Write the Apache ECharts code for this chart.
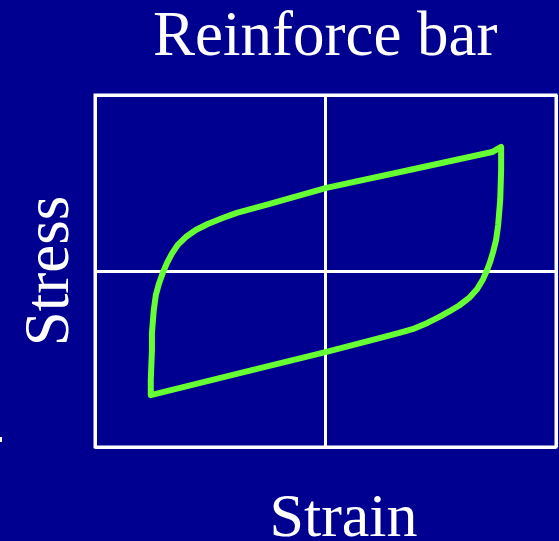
<!DOCTYPE html>
<html>
<head>
<meta charset="utf-8">
<script src="https://cdn.jsdelivr.net/npm/echarts@6/dist/echarts.min.js"></script>
<style>
  html, body { margin: 0; padding: 0; background: #000090; }
  #main { width: 559px; height: 541px; }
</style>
</head>
<body>
<div id="main"></div>
<script>
// hysteresis loop (axis units -100..100)
// left branch up, upper branch, right branch down, lower branch back
var strainVals = [-75.8, -75.8, -75.3, -75.3, -74.5, -73.6, -72.3, -70.6, -68.8, -66.7, -64.1, -60.6, -56.3, -51.1, -44.6, -38.5, -24.2, 0.4, 36.4, 72.3, 76.2,
                  76.2, 75.8, 74.9, 74.0, 72.7, 71.4, 70.1, 68.4, 65.8, 62.3, 58.0, 53.7, 49.4, 44.2, 38.5, 32.0, 23.4, 0.4, -37.2, -75.8];
var stressVals = [-70.5, -61.9, -44.9, -35.2, -22.2, -13.6, -7.4, -1.1, 4.5, 9.7, 14.8, 19.3, 23.3, 26.7, 30.1, 33.0, 38.1, 47.2, 57.4, 67.6, 70.5,
                  57.4, 40.3, 26.1, 17.6, 10.8, 5.1, 0.6, -4.5, -10.2, -15.3, -19.6, -23.0, -26.1, -29.5, -32.7, -35.2, -38.1, -46.0, -58.0, -70.5];

var loop = strainVals.map(function (x, i) { return [x, stressVals[i]]; });

var myChart = echarts.init(document.getElementById('main'));

var option = {
    backgroundColor: '#000090',
    title: {
        text: 'Reinforce bar',
        left: 148,
        top: 2,
        textStyle: {
            color: '#ffffff',
            fontFamily: 'Liberation Serif',
            fontWeight: 'normal',
            fontSize: 63
        }
    },
    grid: {
        left: 95,
        right: 3,
        top: 95,
        bottom: 94,
        outerBoundsMode: 'none',
        containLabel: false,
        show: true,
        borderColor: '#ffffff',
        borderWidth: 3,
        backgroundColor: 'transparent'
    },
    xAxis: {
        type: 'value',
        min: -100,
        max: 100,
        interval: 100,
        name: 'Strain',
        nameLocation: 'middle',
        nameGap: 42,
        nameTextStyle: { color: '#ffffff', fontFamily: 'Liberation Serif', fontSize: 62, padding: [0, 0, 0, 36] },
        axisLine: { show: false },
        axisTick: { show: false },
        axisLabel: { show: false },
        splitLine: { show: true, lineStyle: { color: '#ffffff', width: 3 } }
    },
    yAxis: {
        type: 'value',
        min: -100,
        max: 100,
        interval: 100,
        name: 'Stress',
        nameLocation: 'middle',
        nameGap: 12,
        nameTextStyle: { color: '#ffffff', fontFamily: 'Liberation Serif', fontSize: 63 },
        axisLine: { show: false },
        axisTick: { show: false },
        axisLabel: { show: false },
        splitLine: { show: true, lineStyle: { color: '#ffffff', width: 3 } }
    },
    graphic: [{
        type: 'rect',
        shape: { x: 0, y: 437, width: 2, height: 5 },
        style: { fill: '#ffffff' }
    }],
    series: [{
        type: 'line',
        data: loop,
        showSymbol: false,
        smooth: false,
        silent: true,
        lineStyle: { color: '#66ff33', width: 6, join: 'round', cap: 'round' }
    }]
};

myChart.setOption(option);
</script>
</body>
</html>
